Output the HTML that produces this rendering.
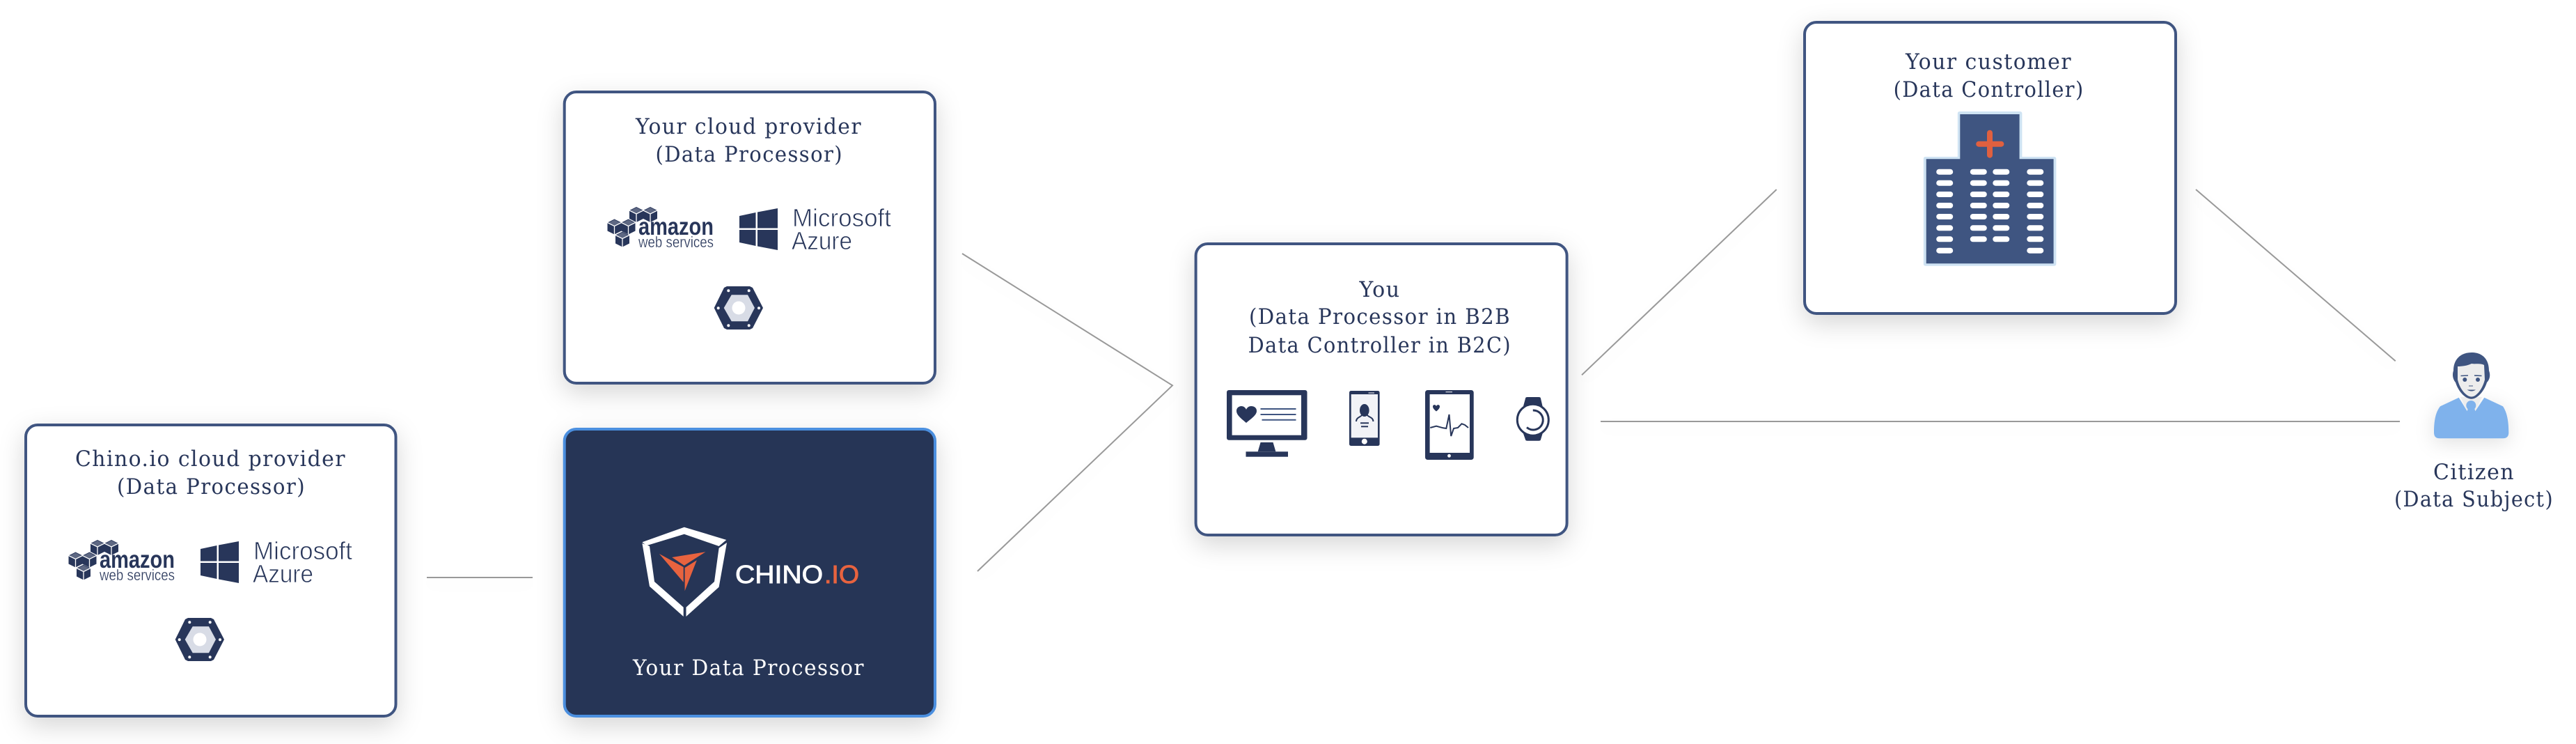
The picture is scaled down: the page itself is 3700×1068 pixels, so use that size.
<!DOCTYPE html>
<html lang="en"><head><meta charset="utf-8"><title>Diagram</title>
<style>
html,body{margin:0;padding:0;background:#fff;width:3700px;height:1068px;overflow:hidden}
svg{display:block}
.t{font-family:"DejaVu Serif","Liberation Serif",serif;font-size:31px;fill:#28365a;letter-spacing:1.5px}
.s{font-family:"Liberation Sans",sans-serif;fill:#28365a}
</style></head><body>
<svg xmlns="http://www.w3.org/2000/svg" width="3700" height="1068" viewBox="0 0 3700 1068">
<defs>
<filter id="card" x="-20%" y="-20%" width="140%" height="145%"><feDropShadow dx="0" dy="12" stdDeviation="18" flood-color="#000" flood-opacity=".16"/></filter>
<filter id="soft" x="-40%" y="-40%" width="180%" height="190%"><feDropShadow dx="0" dy="6" stdDeviation="14" flood-color="#000" flood-opacity=".12"/></filter>
<filter id="ln" x="-10%" y="-30%" width="120%" height="160%"><feDropShadow dx="0" dy="8" stdDeviation="10" flood-color="#000" flood-opacity=".05"/></filter>
<g id="cube">
<polygon points="0,-11 10,-6 10,6 0,11 -10,6 -10,-6" fill="#28365a"/>
<path d="M-10,-6 L0,-1 L10,-6 M0,-1 L0,11" stroke="#fff" stroke-width="1.3" fill="none"/>
<polygon points="0,-10 8,-6 0,-2 -8,-6" fill="#fff" opacity=".25"/>
</g>
<g id="awsms">
<use href="#cube" x="140" y="786"/><use href="#cube" x="160" y="786"/>
<use href="#cube" x="108.500" y="803.500"/><use href="#cube" x="128.500" y="803.500"/>
<use href="#cube" x="120" y="821.500"/>
<polygon points="288,788 311.500,783 311.500,805.500 288,805.500" fill="#28365a"/>
<polygon points="314,782.500 343,777 343,805.500 314,805.500" fill="#28365a"/>
<polygon points="288,808 311.500,808 311.500,831 288,826" fill="#28365a"/>
<polygon points="314,808 343,808 343,837 314,831.500" fill="#28365a"/>
</g>
<g id="hex">
<polygon points="251.700,918 266,889 270,887 303,887 307,889 322,918 307,947 303,949 270,949 266,947" fill="#28365a"/>
<polygon points="265.700,918 276.700,899.300 300,899.300 310,918 300,937.300 276.700,937.300" fill="#d8dce6"/>
<circle cx="287" cy="918" r="9.500" fill="#fff"/>
<g fill="#fff"><circle cx="272.300" cy="893.300" r="2"/><circle cx="301.700" cy="893.300" r="2"/><circle cx="257.700" cy="918.300" r="2"/><circle cx="316" cy="918.300" r="2"/><circle cx="272.300" cy="943.300" r="2"/><circle cx="301.700" cy="943.300" r="2"/></g>
</g>
</defs>
<rect width="3700" height="1068" fill="#fff"/>

<!-- connectors -->
<g stroke="#999" stroke-width="2" fill="none" filter="url(#ln)">
<line x1="613" y1="829" x2="765" y2="829"/>
<polyline points="1382,364 1684,553.300 1404,820"/>
<line x1="2272" y1="538.300" x2="2551.700" y2="272"/>
<line x1="2299" y1="605" x2="3447" y2="605"/>
<line x1="3154" y1="272" x2="3440.700" y2="518.300"/>
</g>

<!-- cards -->
<g filter="url(#card)">
<rect x="37" y="610" width="531.500" height="418" rx="17" fill="#fff" stroke="#3f5581" stroke-width="4"/>
<rect x="810.700" y="132" width="532.300" height="418" rx="17" fill="#fff" stroke="#3f5581" stroke-width="4"/>
<rect x="810.700" y="616" width="532.300" height="412" rx="17" fill="#273556" stroke="#4b8fdf" stroke-width="4"/>
<rect x="1717.600" y="350" width="533" height="418" rx="17" fill="#fff" stroke="#3f5581" stroke-width="4"/>
<rect x="2592" y="32" width="533" height="418" rx="17" fill="#fff" stroke="#3f5581" stroke-width="4"/>
</g>

<!-- card 1 -->
<text class="t" x="108" y="669" textLength="389" lengthAdjust="spacingAndGlyphs">Chino.io cloud provider</text>
<text class="t" x="168" y="709" textLength="271" lengthAdjust="spacingAndGlyphs">(Data Processor)</text>
<use href="#awsms"/>
<text class="s" x="143" y="815" font-size="35" font-weight="700" textLength="108" lengthAdjust="spacingAndGlyphs">amazon</text>
<text class="s" x="143" y="833" font-size="22" textLength="108" lengthAdjust="spacingAndGlyphs" stroke="#fff" stroke-width=".3">web services</text>
<text class="s" x="364" y="803" font-size="36" textLength="142" lengthAdjust="spacingAndGlyphs" stroke="#fff" stroke-width=".8">Microsoft</text>
<text class="s" x="363" y="836" font-size="36" textLength="87" lengthAdjust="spacingAndGlyphs" stroke="#fff" stroke-width=".8">Azure</text>
<use href="#hex"/>

<!-- card 2 -->
<text class="t" x="913" y="192" textLength="325" lengthAdjust="spacingAndGlyphs">Your cloud provider</text>
<text class="t" x="941.500" y="232" textLength="269.500" lengthAdjust="spacingAndGlyphs">(Data Processor)</text>
<use href="#awsms" x="774" y="-478"/>
<text class="s" x="917" y="337" font-size="35" font-weight="700" textLength="108" lengthAdjust="spacingAndGlyphs">amazon</text>
<text class="s" x="917" y="355" font-size="22" textLength="108" lengthAdjust="spacingAndGlyphs" stroke="#fff" stroke-width=".3">web services</text>
<text class="s" x="1138" y="325" font-size="36" textLength="142" lengthAdjust="spacingAndGlyphs" stroke="#fff" stroke-width=".8">Microsoft</text>
<text class="s" x="1137" y="358" font-size="36" textLength="87" lengthAdjust="spacingAndGlyphs" stroke="#fff" stroke-width=".8">Azure</text>
<use href="#hex" x="774" y="-476"/>

<!-- card 3 -->
<g fill="#fff">
<polygon points="922.400,778.300 982.800,756.700 1043.300,775 1032.600,784 982.800,766.700 928.500,783.300"/>
<polygon points="922.400,780 933,784 940,835 981.700,871.700 981.700,885 933,841.700"/>
<polygon points="1044,779 1032.600,786.700 1026,835 985.500,871.700 985.500,885 1032.600,842.700"/>
</g>
<g fill="#e8633f">
<polygon points="946.900,795 981.700,814 981.700,835.700"/>
<polygon points="965.200,800 1013.400,792.300 982.800,811.700"/>
<polygon points="1000.800,804.300 983.600,848.300 983.600,815"/>
</g>
<text x="1056" y="837" font-family="Liberation Sans,sans-serif" font-size="36" fill="#fff" stroke="#fff" stroke-width=".9" textLength="126" lengthAdjust="spacingAndGlyphs">CHINO</text>
<text x="1184" y="837" font-family="Liberation Sans,sans-serif" font-size="36" fill="#e8633f" stroke="#e8633f" stroke-width=".9" textLength="50" lengthAdjust="spacingAndGlyphs">.IO</text>
<text class="t" x="909" y="969" textLength="333" lengthAdjust="spacingAndGlyphs" style="fill:#fff">Your Data Processor</text>

<!-- card 4 -->
<text class="t" x="1952.500" y="426" textLength="59" lengthAdjust="spacingAndGlyphs">You</text>
<text class="t" x="1794" y="465" textLength="376" lengthAdjust="spacingAndGlyphs">(Data Processor in B2B</text>
<text class="t" x="1792.600" y="506" textLength="378.400" lengthAdjust="spacingAndGlyphs">Data Controller in B2C)</text>
<!-- monitor -->
<rect x="1762" y="560" width="115.500" height="71.700" rx="3" fill="#28365a"/>
<rect x="1769.600" y="567.300" width="99.400" height="57.400" fill="#fff"/>
<polygon points="1810.600,635 1828.500,635 1832.400,648.300 1806.700,648.300" fill="#28365a"/>
<rect x="1789.500" y="648.300" width="60.500" height="7.400" fill="#28365a"/>
<path d="M1790,607 C1783,601 1776,596 1776,590 C1776,585 1780,583 1783,583 C1786,583 1789,585 1790,588 C1791,585 1794,583 1797,583 C1801,583 1805,585 1805,590 C1805,596 1797,601 1790,607Z" fill="#28365a"/>
<g stroke="#3f5581" stroke-width="2"><line x1="1810.500" y1="587" x2="1861.500" y2="587"/><line x1="1810.500" y1="595" x2="1861.500" y2="595"/><line x1="1812.500" y1="602.700" x2="1861.500" y2="602.700"/></g>
<!-- phone -->
<rect x="1938" y="561" width="43.600" height="79" rx="2.500" fill="#28365a"/>
<rect x="1940.700" y="566" width="38.300" height="62.300" fill="#f2f3f7"/>
<line x1="1965.500" y1="564" x2="1974" y2="564" stroke="#fff" stroke-width="1"/>
<circle cx="1959.800" cy="633.700" r="4" fill="#fff"/>
<ellipse cx="1959.800" cy="589" rx="6.800" ry="9" fill="#28365a"/>
<path d="M1948,605 C1948,599 1954,599 1956,596 L1964,596 C1966,599 1972.400,599 1972.400,605" fill="none" stroke="#28365a" stroke-width="2"/>
<rect x="1954" y="606.300" width="12" height="2" fill="#28365a"/><rect x="1955" y="611.300" width="10" height="2" fill="#28365a"/>
<!-- tablet -->
<rect x="2047" y="560" width="69.700" height="100" rx="3.500" fill="#28365a"/>
<rect x="2053.600" y="566" width="57.400" height="84" fill="#fff"/>
<line x1="2076.500" y1="562.700" x2="2086" y2="562.700" stroke="#fff" stroke-width="1"/>
<circle cx="2081.500" cy="654.300" r="2.400" fill="#fff"/>
<path d="M2063,590.500 C2060,588 2058,586 2058,583.500 C2058,581 2061.500,580 2063,583 C2064.500,580 2068,581 2068,583.500 C2068,586 2066,588 2063,590.500Z" fill="#28365a"/>
<polyline points="2054.300,614 2063,611.700 2072.700,614.300 2077.300,615 2081.500,595 2084.200,626 2088,615 2094,614 2099.500,608.300 2104,610 2109,614" fill="none" stroke="#28365a" stroke-width="2"/>
<!-- watch -->
<path d="M2191,572 Q2191,570 2194,570 L2210,570 Q2213,570 2213,572 L2216,585 L2216,621 L2213,631 Q2213,632.700 2210,632.700 L2194,632.700 Q2191,632.700 2191,631 L2187.500,621 L2187.500,585Z" fill="#28365a"/>
<circle cx="2201.800" cy="602.700" r="22.500" fill="#fff" stroke="#28365a" stroke-width="3"/>
<path d="M2201.800,589 A14,14 0 1 1 2193,613.500" fill="none" stroke="#28365a" stroke-width="3"/>

<!-- card 5 -->
<text class="t" x="2737" y="99" textLength="239" lengthAdjust="spacingAndGlyphs">Your customer</text>
<text class="t" x="2719.600" y="139" textLength="274" lengthAdjust="spacingAndGlyphs">(Data Controller)</text>
<path d="M2811.800,163 Q2811.800,160 2815,160 L2901,160 Q2904.400,160 2904.400,163 L2904.400,225 L2950,225 Q2953.400,225 2953.400,228 L2953.400,378.700 Q2953.400,381.700 2950,381.700 L2766,381.700 Q2762.800,381.700 2762.800,378.700 L2762.800,228 Q2762.800,225 2766,225 L2811.800,225Z" fill="#cfe3f3"/>
<path d="M2815.300,164 L2900.600,164 L2900.600,228.300 L2949.600,228.300 L2949.600,378.300 L2766.700,378.300 L2766.700,228.300 L2815.300,228.300Z" fill="#3f5581"/>
<rect x="2838.200" y="202.700" width="40.200" height="8" rx="4" fill="#e0603f"/>
<rect x="2854" y="186.700" width="8" height="40" rx="4" fill="#e0603f"/>
<g fill="#fff">
<g id="w1"><rect x="2781.200" y="242.700" width="24" height="8" rx="4"/><rect x="2781.200" y="258.700" width="24" height="8" rx="4"/><rect x="2781.200" y="275" width="24" height="8" rx="4"/><rect x="2781.200" y="291" width="24" height="8" rx="4"/><rect x="2781.200" y="307" width="24" height="8" rx="4"/><rect x="2781.200" y="323.300" width="24" height="8" rx="4"/><rect x="2781.200" y="339.300" width="24" height="8" rx="4"/></g>
<rect x="2781.200" y="355.700" width="24" height="8" rx="4"/>
<use href="#w1" x="48.600"/><use href="#w1" x="81.100"/><use href="#w1" x="130.100"/>
<rect x="2911.300" y="355.700" width="24" height="8" rx="4"/>
</g>

<!-- citizen -->
<g filter="url(#soft)">
<path d="M3496,621 C3496,605 3498,592 3505,583.300 L3531.700,570.700 L3544,590.700 L3555,590.700 L3568.300,570.700 L3595,583.300 C3601,592 3603.300,605 3603.300,621 Q3603.300,629.300 3595,629.300 L3504,629.300 Q3496,629.300 3496,621Z" fill="#7fb2ec"/>
</g>
<polygon points="3534,570 3565,570 3555,590 3544,590" fill="#ededed"/>
<circle cx="3549.300" cy="582" r="7" fill="#7fb2ec"/><polygon points="3545,586 3554,586 3556,592 3543,592" fill="#7fb2ec"/>
<path d="M3550,506 C3566,506 3575,516 3575,532 C3578,540 3575,546 3572,549 C3568,562 3558,572.700 3550,572.700 C3541,572.700 3531,562 3527,549 C3523,544 3522,538 3524,532 C3524,516 3534,506 3550,506Z" fill="#3f5581"/>
<path d="M3550,522 C3556,523 3563,521 3568,524 L3569,545 C3566,558 3557,569.500 3550,569.500 C3542,569.500 3533,558 3530,545 L3530,526 C3536,526 3544,525 3550,522Z" fill="#ededed"/>
<circle cx="3540.300" cy="545" r="3" fill="#3f5581"/><circle cx="3559" cy="545" r="3" fill="#3f5581"/>
<path d="M3534.500,539.500 L3545,539 M3554,539 L3564.500,539.500" stroke="#3f5581" stroke-width="1.600" fill="none"/>
<path d="M3546,554 L3552,554" stroke="#3f5581" stroke-width="1" fill="none"/>
<path d="M3543.500,559.500 Q3550,563.500 3556,559.500Z" fill="#3f5581"/>
<text class="t" x="3495" y="688" textLength="117" lengthAdjust="spacingAndGlyphs">Citizen</text>
<text class="t" x="3439" y="727" textLength="229" lengthAdjust="spacingAndGlyphs">(Data Subject)</text>
</svg>
</body></html>
